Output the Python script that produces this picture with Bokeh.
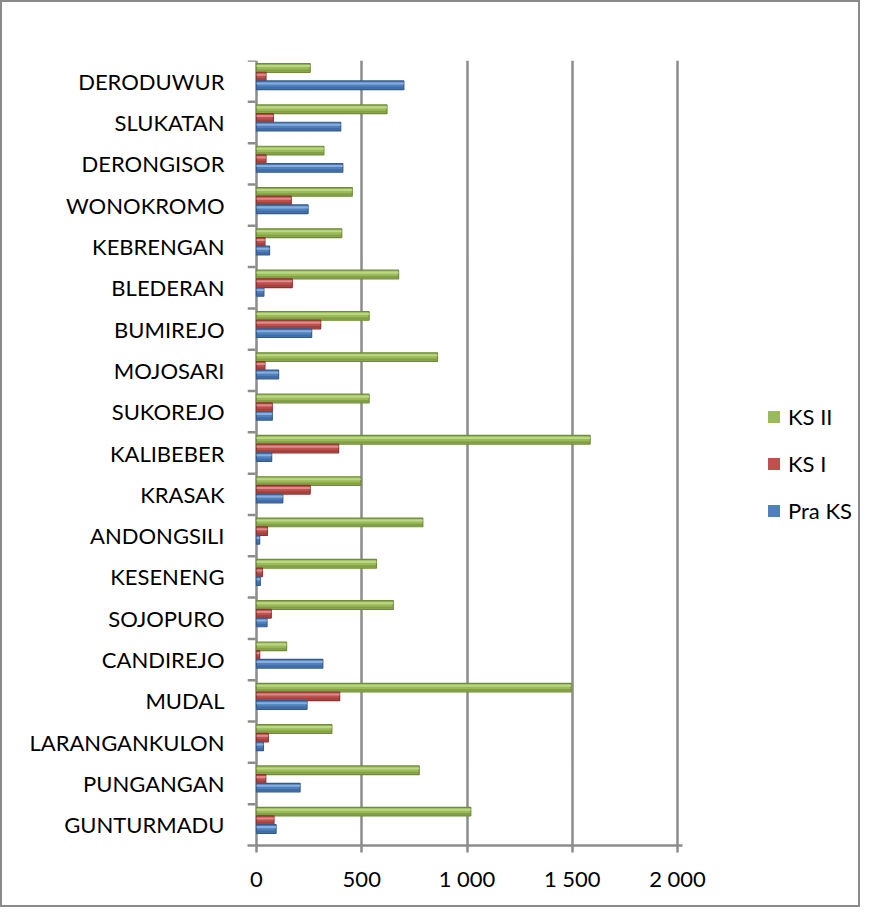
from bokeh.plotting import figure
from bokeh.models import Range1d, FactorRange, FixedTicker, Legend, LegendItem, ColumnDataSource
from bokeh.transform import dodge
from bokeh.embed import file_html
from bokeh.resources import INLINE

categories = ["GUNTURMADU", "PUNGANGAN", "LARANGANKULON", "MUDAL", "CANDIREJO",
              "SOJOPURO", "KESENENG", "ANDONGSILI", "KRASAK", "KALIBEBER",
              "SUKOREJO", "MOJOSARI", "BUMIREJO", "BLEDERAN", "KEBRENGAN",
              "WONOKROMO", "DERONGISOR", "SLUKATAN", "DERODUWUR"]
pra_ks = [93, 207, 33, 240, 315, 50, 18, 15, 125, 72, 75, 105, 262, 35, 62, 245, 410, 400, 700]
ks_1 = [83, 44, 56, 395, 15, 70, 28, 52, 255, 390, 75, 40, 305, 170, 40, 165, 45, 80, 45]
ks_2 = [1018, 773, 358, 1495, 143, 650, 570, 790, 495, 1585, 535, 860, 535, 675, 405, 455, 320, 620, 255]
x_ticks = [0, 500, 1000, 1500, 2000]
x_tick_labels = ["0", "500", "1 000", "1 500", "2 000"]

FONT = "Lato"
GRID = "#8c8c8c"
PX = 0.2105         # pixels per unit
LEFT = 245          # frame left edge (px)
X0 = -9 / PX        # zero sits 9 px right of the frame edge
FRAME_W = 860 - LEFT - 2

src = ColumnDataSource(dict(cat=categories, pra=pra_ks, ks1=ks_1, ks2=ks_2))

p = figure(width=860, height=907, output_backend="svg", toolbar_location=None,
           y_range=FactorRange(*categories, range_padding=0),
           x_range=Range1d(X0, X0 + FRAME_W / PX),
           min_border_left=LEFT, min_border_right=2, min_border_top=58, min_border_bottom=64)
p.outline_line_color = None
p.styles = {"border": "2px solid #8a8a8a"}

# grid
p.xgrid.ticker = FixedTicker(ticks=x_ticks)
p.xgrid.grid_line_color = GRID
p.xgrid.grid_line_width = 2.5
p.ygrid.grid_line_color = None

# x axis
p.xaxis.ticker = FixedTicker(ticks=x_ticks)
p.xaxis.bounds = (X0, 2025)
p.xaxis.major_label_overrides = {t: l for t, l in zip(x_ticks, x_tick_labels)}
p.xaxis.axis_line_color = GRID
p.xaxis.axis_line_width = 2.5
p.xaxis.major_tick_line_color = GRID
p.xaxis.major_tick_line_width = 2.5
p.xaxis.major_tick_out = 7
p.xaxis.major_tick_in = 0
p.xaxis.minor_tick_line_color = None
p.xaxis.major_label_standoff = 12
p.xaxis.major_label_text_font = FONT
p.xaxis.major_label_text_font_size = "22px"
p.xaxis.major_label_text_color = "#000000"

# y axis
p.yaxis.axis_line_color = None
p.yaxis.major_tick_line_color = None
p.yaxis.major_tick_out = 0
p.yaxis.major_tick_in = 0
p.yaxis.minor_tick_line_color = None
p.yaxis.major_label_standoff = 23
p.yaxis.major_label_text_font = FONT
p.yaxis.major_label_text_font_size = "22px"
p.yaxis.major_label_text_color = "#000000"

# left ticks at category boundaries
bsrc = ColumnDataSource(dict(cat=categories))
p.segment(x0=X0, x1=-4, y0=dodge("cat", 0.5, range=p.y_range), y1=dodge("cat", 0.5, range=p.y_range),
          source=bsrc, line_color=GRID, line_width=2.5)

H = 0.21
base = 0.11
series = [("ks2", "KS II", "#9BBB59", "#6f8a3a", "#c2dc8c", "#7d9a42", base + H),
          ("ks1", "KS I", "#C0504D", "#8a3331", "#e09896", "#9c3d3a", base),
          ("pra", "Pra KS", "#4F81BD", "#34598a", "#93b6e3", "#3d68a0", base - H)]
items = []
for col, label, fill, line, light, dark, off in series:
    p.hbar(y=dodge("cat", off, range=p.y_range), left=0, right=col, height=H,
           source=src, fill_color=fill, line_color=line, line_width=1.2)
    p.hbar(y=dodge("cat", off + 0.045, range=p.y_range), left=0, right=col, height=0.05,
           source=src, fill_color=light, line_color=None, fill_alpha=0.85)
    p.hbar(y=dodge("cat", off - 0.06, range=p.y_range), left=0, right=col, height=0.05,
           source=src, fill_color=dark, line_color=None, fill_alpha=0.8)
    # legend proxy: zero-width bar, invisible in the plot, flat square in the legend
    leg = p.hbar(y=[categories[0]], left=[0], right=[0], height=H, fill_color=fill, line_color=None)
    items.append(LegendItem(label=label, renderers=[leg]))

legend = Legend(items=items, location=(519, 321), orientation="vertical",
                glyph_width=15, glyph_height=15, label_standoff=7, spacing=20,
                padding=0, margin=0, border_line_color=None, background_fill_alpha=0,
                label_text_font=FONT, label_text_font_size="22px", label_text_color="#000000")
p.add_layout(legend, "center")

open("out.html", "w").write(file_html(p, INLINE))
